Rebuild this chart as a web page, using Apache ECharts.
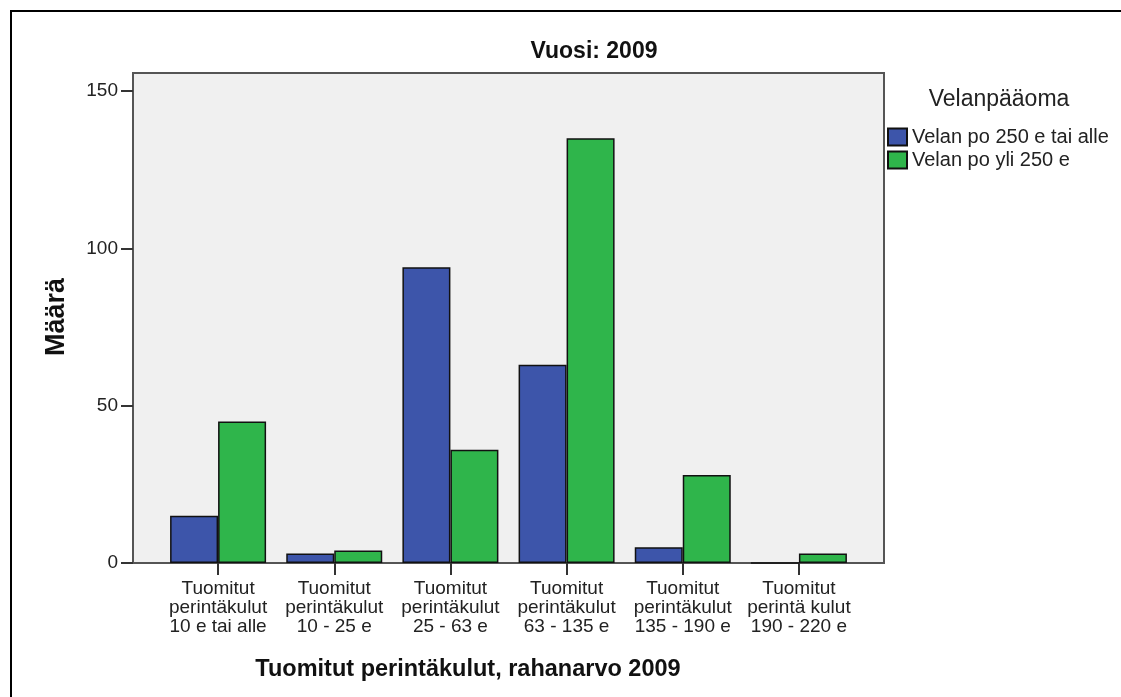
<!DOCTYPE html>
<html>
<head>
<meta charset="utf-8">
<script src="https://cdn.jsdelivr.net/npm/echarts@6/dist/echarts.min.js"></script>
<style>
html,body{margin:0;padding:0;background:#fff;}
#chart{width:1121px;height:697px;}
</style>
</head>
<body>
<div id="chart"></div>
<script>
var categories = [
  'Tuomitut\nperintäkulut\n10 e tai alle',
  'Tuomitut\nperintäkulut\n10 - 25 e',
  'Tuomitut\nperintäkulut\n25 - 63 e',
  'Tuomitut\nperintäkulut\n63 - 135 e',
  'Tuomitut\nperintäkulut\n135 - 190 e',
  'Tuomitut\nperintä kulut\n190 - 220 e'
];
var seriesNames = ['Velan po 250 e tai alle', 'Velan po yli 250 e'];
var blueValues = [15, 3, 94, 63, 5, 0];
var greenValues = [45, 4, 36, 135, 28, 3];
var yTicks = [0, 50, 100, 150];

var FONT = '"Liberation Sans", Arial, sans-serif';
var chart = echarts.init(document.getElementById('chart'));
chart.setOption({
  animation: false,
  backgroundColor: '#ffffff',
  textStyle: { fontFamily: FONT },
  title: [
    { text: 'Vuosi: 2009', left: 594, top: 52, textAlign: 'center', textVerticalAlign: 'middle',
      padding: 0, textStyle: { fontFamily: FONT, fontSize: 23, fontWeight: 'bold', color: '#111' } },
    { text: 'Tuomitut perintäkulut, rahanarvo 2009', left: 468, top: 670, textAlign: 'center', textVerticalAlign: 'middle',
      padding: 0, textStyle: { fontFamily: FONT, fontSize: 23.5, fontWeight: 'bold', color: '#111' } },
    { text: 'Velanpääoma', left: 999, top: 100, textAlign: 'center', textVerticalAlign: 'middle',
      padding: 0, textStyle: { fontFamily: FONT, fontSize: 23, fontWeight: 'normal', color: '#222' } }
  ],
  graphic: [
    { type: 'rect', z: -10, shape: { x: 11, y: 11, width: 1300, height: 900 },
      style: { fill: 'none', stroke: '#000', lineWidth: 2 } },
    { type: 'text', x: 57, y: 317, rotation: Math.PI / 2,
      style: { text: 'Määrä', font: 'bold 27px ' + FONT, fill: '#111', textAlign: 'center', textVerticalAlign: 'middle' } }
  ],
  legend: {
    orient: 'vertical',
    left: 887, top: 127,
    padding: 0,
    itemWidth: 19, itemHeight: 17, itemGap: 3,
    icon: 'rect',
    textStyle: { fontFamily: FONT, fontSize: 20, color: '#222', lineHeight: 19 },
    data: seriesNames
  },
  grid: [
    { left: 133, top: 73, width: 751, height: 490, show: true, backgroundColor: '#f0f0f0',
      borderColor: '#555', borderWidth: 2, containLabel: false },
    { left: 160, top: 91, width: 697, height: 472, containLabel: false }
  ],
  xAxis: [
    { gridIndex: 0, type: 'value', show: false, min: 0, max: 1 },
    { gridIndex: 1, type: 'category', data: categories,
      axisLine: { show: false },
      axisTick: { show: true, alignWithLabel: true, length: 12, lineStyle: { color: '#333', width: 2 } },
      axisLabel: { interval: 0, margin: 16, fontFamily: FONT, fontSize: 19, lineHeight: 19, color: '#222' } }
  ],
  yAxis: [
    { gridIndex: 0, type: 'value', show: false, min: 0, max: 1 },
    { gridIndex: 1, type: 'value', min: 0, max: 150, interval: 50, offset: 27,
      axisLine: { show: false },
      axisTick: { show: true, length: 12, lineStyle: { color: '#333', width: 2 } },
      splitLine: { show: false },
      axisLabel: { margin: 15, fontFamily: FONT, fontSize: 19, color: '#222',
        formatter: function (v) { return yTicks.indexOf(v) >= 0 ? String(v) : ''; } } }
  ],
  series: [
    { name: seriesNames[0], type: 'bar', xAxisIndex: 1, yAxisIndex: 1, data: blueValues,
      barWidth: 48, barGap: '0%',
      itemStyle: { color: '#3d55aa', borderColor: '#111', borderWidth: 1.5 } },
    { name: seriesNames[1], type: 'bar', xAxisIndex: 1, yAxisIndex: 1, data: greenValues,
      barWidth: 48, barGap: '0%',
      itemStyle: { color: '#2fb54b', borderColor: '#111', borderWidth: 1.5 } }
  ]
});
</script>
</body>
</html>
